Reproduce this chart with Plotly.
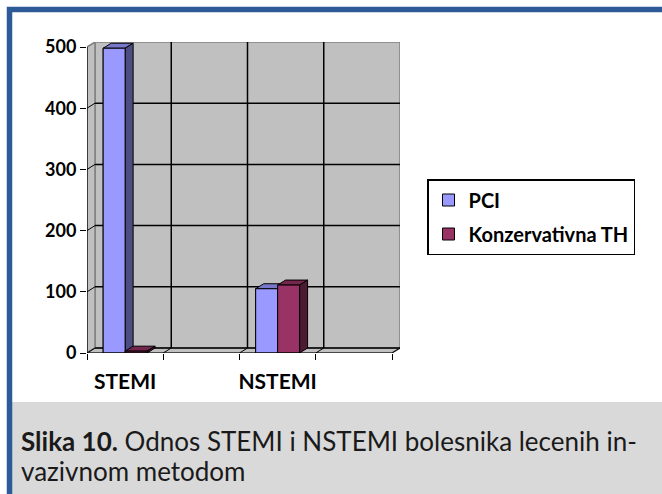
import plotly.graph_objects as go

# ---------------- data ----------------
categories = ["STEMI", "", "NSTEMI", ""]
pci_values = [498, None, 105, None]
konz_values = [3, None, 111, None]
series_names = ["PCI", "Konzervativna TH"]
y_tick_values = [0, 100, 200, 300, 400, 500]
caption_lines = ["<b>Slika 10.</b> Odnos STEMI i NSTEMI bolesnika lecenih in-",
                 "vazivnom metodom"]

# ---------------- layout geometry ----------------
W, H = 662, 494
ML, MR, MT, MB = 87, 262, 42, 141
PW, PH = W - ML - MR, H - MT - MB
X0, X1 = -0.5, len(categories) - 0.5
YMAX = max(y_tick_values)
DX_PX, DY_PX = 8, 5
DX = DX_PX * (X1 - X0) / (PW - DX_PX)
DY = DY_PX * YMAX / (PH - DY_PX)
BW = 0.288
FONT = "Lato"


def px(x):
    return (x - ML) / PW


def py(y):
    return (H - MB - y) / PH


styles = [
    dict(front="#9999FF", top="#7777CC", side="#4D4D80", offset=-BW),
    dict(front="#993366", top="#74264D", side="#4D1A33", offset=0.0),
]

xs = list(range(len(categories)))
fig = go.Figure()

all_values = [pci_values, konz_values]
for name, vals, st in zip(series_names, all_values, styles):
    fig.add_bar(
        x=xs, y=vals, width=BW, offset=st["offset"], name=name, legendgroup=name,
        marker=dict(color=st["front"], line=dict(color="black", width=1)),
        hoverinfo="skip",
    )

for name, vals, st in zip(series_names, all_values, styles):
    tx, ty, sx, sy, fx, fy = [], [], [], [], [], []
    for xi, v in zip(xs, vals):
        if v is None:
            continue
        a = xi + st["offset"]
        b = a + BW
        tx += [a, b, b + DX, a + DX, a, None]
        ty += [v, v, v + DY, v + DY, v, None]
        sx += [b, b + DX, b + DX, b, b, None]
        sy += [0, DY, v + DY, v, 0, None]
        fx += [a, b, b, a, a, None]
        fy += [0, 0, v, v, 0, None]
    for qx, qy, col in ((tx, ty, st["top"]), (sx, sy, st["side"]), (fx, fy, st["front"])):
        fig.add_scatter(x=qx, y=qy, mode="lines", fill="toself", fillcolor=col,
                        line=dict(color="black", width=1), showlegend=False,
                        hoverinfo="skip")

shapes = []
WALL = "#C0C0C0"
EDGE = "#808080"
# caption background
shapes.append(dict(type="rect", xref="paper", yref="paper", layer="below",
                   x0=px(12), x1=px(680), y0=py(402), y1=py(510),
                   fillcolor="#D9D9D9", line=dict(width=0)))
# walls
shapes.append(dict(type="rect", xref="x", yref="y", layer="below",
                   x0=X0 + DX, x1=X1 + DX, y0=DY, y1=YMAX + DY,
                   fillcolor=WALL, line=dict(color=EDGE, width=1.5)))
shapes.append(dict(type="path", xref="x", yref="y", layer="below",
                   path=f"M {X0},0 L {X0},{YMAX} L {X0+DX},{YMAX+DY} L {X0+DX},{DY} Z",
                   fillcolor=WALL, line=dict(color=EDGE, width=1.5)))
shapes.append(dict(type="path", xref="x", yref="y", layer="below",
                   path=f"M {X0},0 L {X1},0 L {X1+DX},{DY} L {X0+DX},{DY} Z",
                   fillcolor=WALL, line=dict(color=EDGE, width=1.5)))
# horizontal gridlines (back wall + left wall)
for v in y_tick_values[:-1]:
    shapes.append(dict(type="line", xref="x", yref="y", layer="below",
                       x0=X0 + DX, x1=X1 + DX, y0=v + DY, y1=v + DY,
                       line=dict(color="black", width=1.5)))
    shapes.append(dict(type="line", xref="x", yref="y", layer="below",
                       x0=X0, x1=X0 + DX, y0=v, y1=v + DY,
                       line=dict(color="black", width=1)))
# vertical gridlines at category boundaries (back wall + floor)
for k in range(1, len(categories)):
    b = X0 + k
    shapes.append(dict(type="line", xref="x", yref="y", layer="below",
                       x0=b + DX, x1=b + DX, y0=DY, y1=YMAX + DY,
                       line=dict(color="black", width=1.5)))
    shapes.append(dict(type="line", xref="x", yref="y", layer="below",
                       x0=b, x1=b + DX, y0=0, y1=DY,
                       line=dict(color="black", width=1)))
# front axis lines
shapes.append(dict(type="line", xref="x", yref="y", x0=X0, x1=X0, y0=0, y1=YMAX,
                   line=dict(color="black", width=1.2)))
shapes.append(dict(type="line", xref="x", yref="y", x0=X0, x1=X1, y0=0, y1=0,
                   line=dict(color="black", width=1.2)))
shapes.append(dict(type="line", xref="x", yref="y", x0=X1, x1=X1 + DX, y0=0, y1=DY,
                   line=dict(color="black", width=1)))
# document frame
shapes.append(dict(type="rect", xref="paper", yref="paper", layer="above",
                   x0=px(9.5), x1=px(680), y0=py(510), y1=py(9.5),
                   fillcolor="rgba(0,0,0,0)", line=dict(color="#2E5A98", width=5.5)))

annotations = []
for i, (line, ypx) in enumerate(zip(caption_lines, [441, 471])):
    annotations.append(dict(xref="paper", yref="paper", x=px(19), y=py(ypx),
                            xanchor="left", yanchor="middle", align="left", showarrow=False,
                            text=line,
                            font=dict(family=FONT, size=26, color="#1a1a1a")))

fig.update_layout(
    width=W, height=H,
    margin=dict(l=ML, r=MR, t=MT, b=MB, pad=0),
    paper_bgcolor="white", plot_bgcolor="rgba(0,0,0,0)",
    barmode="overlay",
    showlegend=True,
    shapes=shapes,
    legend=dict(x=px(427), y=py(179), xanchor="left", yanchor="top",
                bordercolor="black", borderwidth=1.5, bgcolor="white",
                itemwidth=30,
                font=dict(family=FONT, size=20, color="black", weight="bold"),
                tracegroupgap=5, traceorder="grouped"),
    font=dict(family=FONT, color="black"),
    annotations=annotations,
)
fig.update_xaxes(range=[X0, X1 + DX], tickvals=xs, ticktext=categories, ticks="",
                 showgrid=False, zeroline=False, showline=False, fixedrange=True,
                 ticklabelstandoff=14,
                 tickfont=dict(family=FONT, size=21, color="black", weight="bold"),
                 minor=dict(tickvals=[X0 + k for k in range(len(categories) + 1)],
                            ticks="outside", ticklen=6, tickcolor="black", tickwidth=1.2))
fig.update_yaxes(range=[0, YMAX + DY], tickvals=y_tick_values, ticks="outside", ticklen=6,
                 tickcolor="black", tickwidth=1.2,
                 showgrid=False, zeroline=False, showline=False, fixedrange=True,
                 tickfont=dict(family=FONT, size=18, color="black", weight="bold"))

fig.write_html("out.html", config={"displayModeBar": False},
               post_script="document.body.style.margin='0px';")
